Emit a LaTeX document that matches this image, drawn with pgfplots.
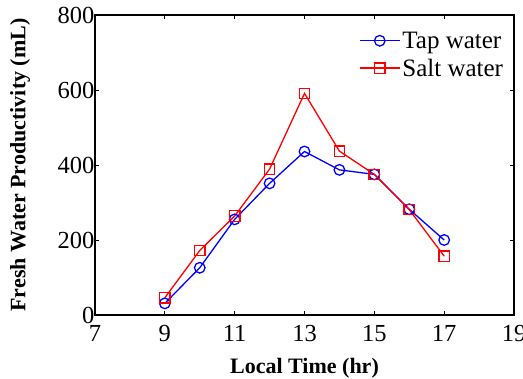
\documentclass[border=0pt]{standalone}
\usepackage{pgfplots}
\pgfplotsset{compat=1.18}
\usepackage{fontspec}
\setmainfont{Liberation Serif}
\begin{document}
\begin{tikzpicture}
\begin{axis}[
  scale only axis,
  width=419pt, height=300pt,
  xmin=7, xmax=19, ymin=0, ymax=800,
  xtick={7,9,...,19}, ytick={0,200,...,800},
  tick align=inside, major tick length=4pt,
  tick style={black, line width=0.8pt},
  axis line style={line width=1.3pt},
  /pgf/number format/assume math mode=true,
  ticklabel style={font=\fontsize{24.5}{26}\selectfont},
  xticklabel style={anchor=base, yshift=-26pt},
  yticklabel style={xshift=3pt},
  xlabel={\textbf{Local Time (hr)}},
  ylabel={\textbf{Fresh Water Productivity (mL)}},
  label style={font=\fontsize{22}{24}\selectfont},
  xlabel style={at={(axis description cs:0.5,0)}, anchor=base, yshift=-58pt},
  ylabel style={at={(axis description cs:-0.179,0.5)}, anchor=center},
  legend style={draw=none, fill=none, at={(axis cs:18.75,761)}, anchor=north east,
    font=\fontsize{25}{27}\selectfont, row sep=5pt, inner sep=0pt,
    nodes={inner sep=2pt}},
  legend cell align=left,
  legend image code/.code={\draw[mark repeat=2,mark phase=2,#1] plot coordinates {(0pt,0pt)(20pt,0pt)(40pt,0pt)};},
]
\addplot[blue, line width=1.3pt, mark=o, mark size=5.3pt, mark options={line width=1.3pt}]
coordinates {(9,31)(10,126)(11,255)(12,351)(13,436)(14,387)(15,375)(16,282)(17,200)};
\addlegendentry{Tap water}
\addplot[red, line width=1.3pt, mark=square, mark size=5.2pt, mark options={line width=1.3pt}]
coordinates {(9,46)(10,172)(11,264)(12,389)(13,591)(14,437)(15,375)(16,281)(17,157)};
\addlegendentry{Salt water}
\end{axis}
\pgfresetboundingbox
\path ([shift={(-95pt,-63pt)}]current axis.south west) rectangle ([shift={(9pt,15pt)}]current axis.north east);
\end{tikzpicture}
\end{document}
